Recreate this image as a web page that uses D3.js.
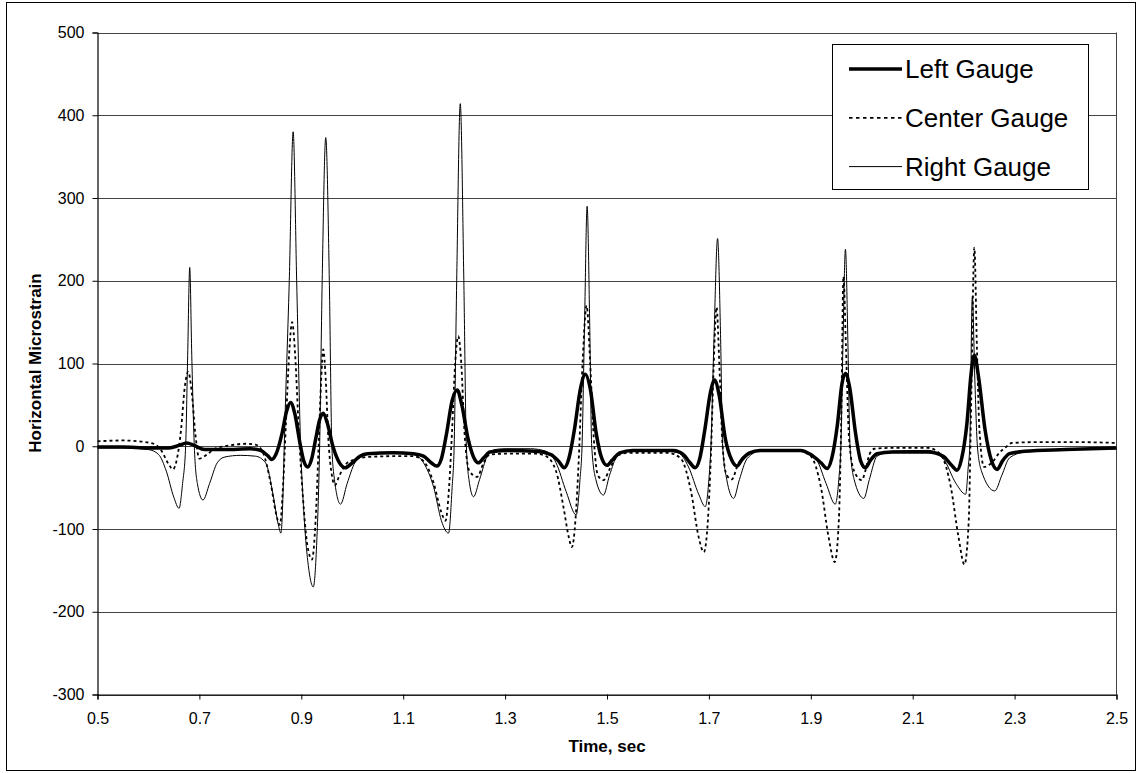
<!DOCTYPE html>
<html>
<head>
<meta charset="utf-8">
<script src="https://cdn.jsdelivr.net/npm/d3@7"></script>
<style>
  body { margin: 0; background: #fff; }
  text { font-family: Arial, "Liberation Sans", sans-serif; }
</style>
</head>
<body>
<script>
// strain traces, [time (s), microstrain]
const leftGauge = [
  [0.50,-1],[0.55,-1],[0.60,-2],[0.64,-2],[0.66,1],[0.675,4],[0.69,1],[0.71,-4],[0.75,-4],[0.80,-3],
  [0.82,-5],[0.835,-12],[0.842,-16],[0.850,-10],[0.862,15],[0.871,42],[0.879,53],[0.887,40],[0.897,5],
  [0.905,-18],[0.9125,-25],[0.920,-16],[0.928,8],[0.936,32],[0.943,40],[0.951,28],[0.962,0],[0.975,-20],
  [0.986,-26],[1.000,-20],[1.015,-12],[1.03,-9],[1.08,-8],[1.12,-9],[1.14,-12],[1.155,-20],[1.166,-24],
  [1.175,-15],[1.185,15],[1.196,55],[1.206,68],[1.215,50],[1.227,10],[1.238,-13],[1.2475,-20],[1.258,-14],
  [1.27,-7],[1.30,-5],[1.36,-6],[1.39,-10],[1.405,-18],[1.416,-26],[1.425,-15],[1.436,20],[1.448,70],
  [1.4575,87],[1.467,70],[1.479,15],[1.490,-15],[1.500,-23],[1.510,-17],[1.525,-8],[1.55,-5],[1.63,-5],
  [1.65,-10],[1.663,-20],[1.673,-26],[1.682,-15],[1.692,20],[1.703,65],[1.711,80],[1.720,62],[1.732,10],
  [1.745,-17],[1.755,-24],[1.765,-16],[1.78,-8],[1.80,-5],[1.88,-5],[1.90,-10],[1.920,-20],[1.932,-27],
  [1.941,-15],[1.952,25],[1.961,75],[1.968,88],[1.976,72],[1.988,15],[1.998,-18],[2.007,-26],[2.017,-17],
  [2.03,-9],[2.06,-7],[2.13,-7],[2.16,-12],[2.175,-22],[2.187,-29],[2.196,-15],[2.206,25],[2.215,90],
  [2.221,110],[2.229,85],[2.242,20],[2.255,-18],[2.266,-28],[2.276,-18],[2.29,-9],[2.32,-6],[2.40,-4],[2.50,-2]
];

const centerGauge = [
  [0.50,6],[0.55,7],[0.58,6],[0.61,3],[0.625,-5],[0.640,-22],[0.648,-28],[0.656,-15],[0.664,20],[0.671,70],
  [0.678,90],[0.685,65],[0.692,15],[0.700,-15],[0.708,-13],[0.717,-9],[0.73,-3],[0.76,1],[0.79,3],[0.81,2],
  [0.825,-8],[0.840,-45],[0.850,-80],[0.858,-95],[0.864,-50],[0.870,30],[0.876,110],[0.882,150],[0.888,110],
  [0.895,20],[0.903,-60],[0.912,-120],[0.921,-137],[0.928,-90],[0.934,0],[0.939,80],[0.943,117],[0.948,80],
  [0.953,10],[0.960,-35],[0.966,-47],[0.975,-35],[0.990,-20],[1.00,-17],[1.03,-13],[1.08,-12],[1.12,-12],
  [1.14,-18],[1.16,-45],[1.175,-80],[1.183,-90],[1.190,-50],[1.196,20],[1.202,100],[1.208,133],[1.214,100],
  [1.220,20],[1.230,-30],[1.245,-37],[1.258,-20],[1.27,-10],[1.30,-9],[1.36,-9],[1.38,-12],[1.40,-30],
  [1.415,-75],[1.425,-110],[1.431,-122],[1.438,-90],[1.445,-10],[1.452,100],[1.460,170],[1.467,100],
  [1.474,10],[1.482,-35],[1.493,-41],[1.505,-28],[1.52,-12],[1.54,-8],[1.62,-8],[1.645,-15],[1.665,-55],
  [1.680,-110],[1.690,-128],[1.698,-90],[1.704,-10],[1.709,90],[1.715,168],[1.721,90],[1.727,0],[1.735,-35],
  [1.745,-40],[1.757,-22],[1.775,-10],[1.80,-6],[1.88,-6],[1.90,-12],[1.92,-50],[1.935,-110],[1.947,-140],
  [1.955,-90],[1.960,40],[1.964,205],[1.969,120],[1.975,10],[1.985,-30],[2.000,-41],[2.007,-30],[2.015,-10],
  [2.025,-3],[2.06,-2],[2.13,-2],[2.155,-10],[2.175,-50],[2.190,-110],[2.2015,-143],[2.210,-90],[2.215,60],
  [2.221,240],[2.226,120],[2.231,20],[2.240,-25],[2.255,-20],[2.27,-8],[2.285,0],[2.295,4],[2.35,5],
  [2.42,5],[2.50,4]
];

const rightGauge = [
  [0.50,-2],[0.55,-2],[0.60,-4],[0.62,-10],[0.635,-30],[0.650,-62],[0.660,-75],[0.667,-45],[0.673,0],
  [0.677,110],[0.681,216],[0.685,110],[0.690,0],[0.696,-45],[0.707,-65],[0.720,-45],[0.735,-20],[0.750,-13],
  [0.78,-11],[0.81,-12],[0.83,-20],[0.845,-60],[0.855,-95],[0.860,-105],[0.864,-60],[0.8665,0],[0.8764,200],
  [0.884,380],[0.8909,200],[0.8987,0],[0.905,-80],[0.915,-150],[0.9235,-170],[0.930,-120],[0.936,0],
  [0.941,200],[0.948,373],[0.955,200],[0.960,0],[0.965,-40],[0.977,-70],[0.990,-45],[1.005,-20],[1.02,-12],
  [1.035,-8],[1.08,-8],[1.12,-10],[1.14,-20],[1.16,-50],[1.175,-90],[1.189,-105],[1.196,-50],[1.200,0],
  [1.205,200],[1.212,414],[1.219,200],[1.224,0],[1.229,-40],[1.238,-61],[1.250,-40],[1.265,-12],[1.28,-4],
  [1.30,-3],[1.35,-3],[1.38,-6],[1.40,-20],[1.42,-55],[1.4395,-83],[1.447,-40],[1.451,0],[1.456,150],
  [1.461,290],[1.466,150],[1.470,0],[1.478,-40],[1.493,-59],[1.505,-35],[1.52,-12],[1.54,-6],[1.60,-5],
  [1.64,-8],[1.66,-25],[1.68,-58],[1.693,-73],[1.700,-40],[1.704,0],[1.710,130],[1.717,251],[1.723,130],
  [1.727,0],[1.735,-40],[1.7485,-63],[1.760,-40],[1.775,-15],[1.80,-6],[1.88,-5],[1.91,-15],[1.93,-45],
  [1.948,-70],[1.955,-40],[1.959,0],[1.963,120],[1.968,238],[1.973,120],[1.977,0],[1.985,-40],[2.004,-63],
  [2.015,-40],[2.03,-12],[2.06,-6],[2.13,-5],[2.16,-15],[2.185,-45],[2.204,-58],[2.209,-25],[2.212,0],
  [2.217,181],[2.222,80],[2.227,0],[2.235,-30],[2.261,-54],[2.275,-35],[2.29,-14],[2.32,-7],[2.40,-4],[2.50,-3]
];

const xTicks = [0.5, 0.7, 0.9, 1.1, 1.3, 1.5, 1.7, 1.9, 2.1, 2.3, 2.5];
const yTicks = [-300, -200, -100, 0, 100, 200, 300, 400, 500];
const seriesNames = ["Left Gauge", "Center Gauge", "Right Gauge"];

const WIDTH = 1141, HEIGHT = 773;
const margin = {left: 97.5, right: 1116.5, top: 32.5, bottom: 694.5};

const svg = d3.select("body").append("svg")
    .attr("width", WIDTH)
    .attr("height", HEIGHT);

// chart frame
svg.append("rect")
    .attr("x", 6.5).attr("y", 2.5)
    .attr("width", 1129).attr("height", 768)
    .attr("fill", "#fff").attr("stroke", "#000").attr("stroke-width", 1);

const x = d3.scaleLinear().domain([0.5, 2.5]).range([margin.left, margin.right]);
const y = d3.scaleLinear().domain([-300, 500]).range([margin.bottom, margin.top]);

// horizontal gridlines
svg.append("g")
  .selectAll("line")
  .data(yTicks)
  .join("line")
    .attr("x1", margin.left).attr("x2", margin.right)
    .attr("y1", d => Math.round(y(d)) + 0.5).attr("y2", d => Math.round(y(d)) + 0.5)
    .attr("stroke", "#444").attr("stroke-width", 1);

// right edge of plot area
svg.append("line")
    .attr("x1", margin.right).attr("x2", margin.right)
    .attr("y1", margin.top).attr("y2", margin.bottom)
    .attr("stroke", "#444");

const yAxis = svg.append("g")
    .attr("transform", `translate(${margin.left},0)`)
    .call(d3.axisLeft(y).tickValues(yTicks).tickSize(5).tickPadding(8).tickFormat(d => String(d)));

const xAxis = svg.append("g")
    .attr("transform", `translate(0,${margin.bottom})`)
    .call(d3.axisBottom(x).tickValues(xTicks).tickSize(5).tickPadding(13).tickFormat(d3.format(".1f")));

[yAxis, xAxis].forEach(g => {
  g.selectAll("text").style("font-size", "16px").attr("fill", "#000");
  g.selectAll("line").attr("stroke", "#000");
  g.select(".domain").attr("stroke", "#000").attr("stroke-width", 1.2);
});

svg.append("text")
    .attr("x", 607).attr("y", 752)
    .attr("text-anchor", "middle")
    .style("font-size", "17px").style("font-weight", "bold")
    .text("Time, sec");

svg.append("text")
    .attr("transform", "translate(41,363) rotate(-90)")
    .attr("text-anchor", "middle")
    .style("font-size", "17px").style("font-weight", "bold")
    .text("Horizontal Microstrain");

// traces
const line = d3.line()
    .x(d => x(d[0]))
    .y(d => y(d[1]))
    .curve(d3.curveMonotoneX);

const styles = [
  {data: rightGauge, width: 1, dash: null},
  {data: centerGauge, width: 1.8, dash: "3,3"},
  {data: leftGauge, width: 3.5, dash: null}
];

svg.append("g")
  .selectAll("path")
  .data(styles)
  .join("path")
    .attr("d", d => line(d.data))
    .attr("fill", "none")
    .attr("stroke", "#000")
    .attr("stroke-width", d => d.width)
    .attr("stroke-dasharray", d => d.dash)
    .attr("stroke-linejoin", "round");

// legend
const legendStyles = [
  {width: 3.5, dash: null},
  {width: 1.8, dash: "3.5,3.5"},
  {width: 1, dash: null}
];

const legend = svg.append("g");
legend.append("rect")
    .attr("x", 832.5).attr("y", 44.5)
    .attr("width", 256).attr("height", 145)
    .attr("fill", "#fff").attr("stroke", "#000");

const rows = legend.selectAll(".row")
  .data(seriesNames)
  .join("g")
    .attr("class", "row")
    .attr("transform", (d, i) => `translate(0,${69 + i * 48.8})`);

rows.append("line")
    .attr("x1", 849).attr("x2", 902)
    .attr("stroke", "#000")
    .attr("stroke-width", (d, i) => legendStyles[i].width)
    .attr("stroke-dasharray", (d, i) => legendStyles[i].dash);

rows.append("text")
    .attr("x", 905).attr("y", 9)
    .style("font-size", "26px")
    .text(d => d);
</script>
</body>
</html>
